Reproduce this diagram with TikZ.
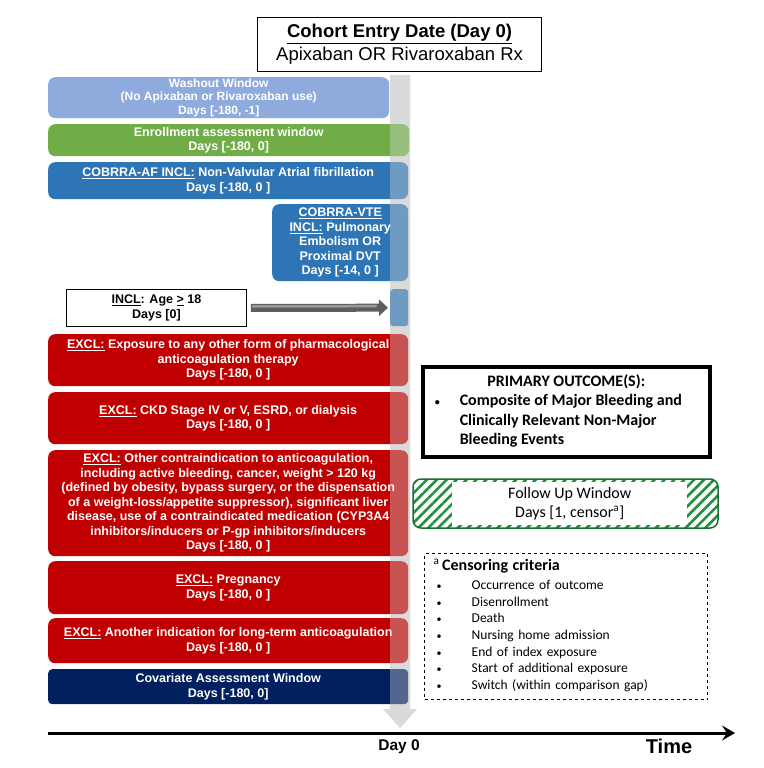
\documentclass[tikz,border=0pt]{standalone}
\usepackage{fontspec}
\setmainfont{Liberation Sans}
\newfontfamily\carl{Carlito}
\usetikzlibrary{arrows.meta,patterns.meta}
\definecolor{washc}{HTML}{8FAADC}
\definecolor{greenc}{HTML}{70AD47}
\definecolor{bluec}{HTML}{2E75B6}
\definecolor{redc}{HTML}{C00000}
\definecolor{navyc}{HTML}{002060}
\definecolor{colgrey}{HTML}{DADADA}
\definecolor{hatchc}{HTML}{22903E}
\definecolor{hatchb}{HTML}{1C6E30}
\definecolor{arrowg}{HTML}{5E5E5E}
\definecolor{arrowl}{HTML}{9A9A9A}
\newcommand{\smbul}{{\fontsize{10}{10}\selectfont\textbullet}}
\tikzset{
  tbox/.style={rounded corners=7pt, anchor=north west, inner sep=0pt, align=center,
    text=white, font=\bfseries\fontsize{12.5}{14.5}\selectfont},
  plainbox/.style={draw=black, anchor=north west, inner sep=0pt, align=center},
}
\begin{document}
\begin{tikzpicture}[x=1pt,y=-1pt]
\useasboundingbox[fill=white] (0,0) rectangle (763,768);

% grey time column (under)
\fill[colgrey] (390,75) -- (410,75) -- (410,709) -- (417,709) -- (400,728) -- (383,709) -- (390,709) -- cycle;

% title
\node[plainbox, line width=1.2pt, minimum width=284pt, minimum height=54pt,
  font=\fontsize{18.5}{23}\selectfont] (title) at (257,17)
  {\textbf{\underline{Cohort Entry Date (Day 0)}}\\Apixaban OR Rivaroxaban Rx};

% left boxes
\node[tbox, fill=washc, minimum width=341pt, minimum height=41pt,
  font=\bfseries\fontsize{12}{13.5}\selectfont] (wash) at (48,77)
  {Washout Window\\(No Apixaban or Rivaroxaban use)\\Days [-180, -1]};
\node[tbox, fill=greenc, minimum width=361pt, minimum height=32pt] (enroll) at (48,124)
  {Enrollment assessment window\\Days [-180, 0]};
\node[tbox, fill=bluec, minimum width=360pt, minimum height=37pt] (af) at (48,162)
  {\underline{COBRRA-AF INCL:} Non-Valvular Atrial fibrillation\\Days [-180, 0 ]};
\node[tbox, fill=bluec, minimum width=136pt, minimum height=77pt] (vte) at (272,204)
  {\underline{COBRRA-VTE}\\\underline{INCL:} Pulmonary\\Embolism OR\\Proximal DVT\\Days [-14, 0 ]};
\node[plainbox, line width=0.8pt, minimum width=180pt, minimum height=37pt,
  font=\bfseries\fontsize{12.5}{14.5}\selectfont] (age) at (66,289)
  {\underline{INCL}: Age \underline{>} 18\\Days [0]};
\node[tbox, rounded corners=3pt, fill=bluec, minimum width=18pt, minimum height=37pt] (agebar) at (390,289) {};
\node[tbox, fill=redc, minimum width=360pt, minimum height=52pt] (ex1) at (48,334)
  {\underline{EXCL:} Exposure to any other form of pharmacological\\anticoagulation therapy\\Days [-180, 0 ]};
\node[tbox, fill=redc, minimum width=360pt, minimum height=52pt] (ex2) at (48,392)
  {\underline{EXCL:} CKD Stage IV or V, ESRD, or dialysis\\Days [-180, 0 ]};
\node[tbox, fill=redc, minimum width=360pt, minimum height=106pt] (ex3) at (48,450)
  {\underline{EXCL:} Other contraindication to anticoagulation,\\including active bleeding, cancer, weight > 120 kg\\(defined by obesity, bypass surgery, or the dispensation\\of a weight-loss/appetite suppressor), significant liver\\disease, use of a contraindicated medication (CYP3A4\\inhibitors/inducers or P-gp inhibitors/inducers\\Days [-180, 0 ]};
\node[tbox, fill=redc, minimum width=360pt, minimum height=53pt] (ex4) at (48,561)
  {\underline{EXCL:} Pregnancy\\Days [-180, 0 ]};
\node[tbox, fill=redc, minimum width=360pt, minimum height=45pt] (ex5) at (48,618)
  {\underline{EXCL:} Another indication for long-term anticoagulation\\Days [-180, 0 ]};
\node[tbox, rounded corners=4pt, fill=navyc, minimum width=360pt, minimum height=35pt] (cov) at (48,669)
  {Covariate Assessment Window\\Days [-180, 0]};

% grey time column (translucent overlay)
\fill[colgrey, opacity=0.38] (390,75) -- (410,75) -- (410,709) -- (417,709) -- (400,728) -- (383,709) -- (390,709) -- cycle;

% age arrow (shaded shaft)
\draw[arrowg, line width=8pt, -{Triangle[length=9pt,width=16pt]}]
  ([xshift=4pt]age.east) -- ([xshift=-2pt]agebar.west);
\draw[arrowl, line width=2.5pt, line cap=round]
  ([xshift=6pt,yshift=1.5pt]age.east) -- ([xshift=-14pt,yshift=1.5pt]agebar.west);

% primary outcome
\node[plainbox, line width=3.5pt, minimum width=287pt, minimum height=90pt,
  font=\carl\bfseries\fontsize{16}{19.5}\selectfont] (outcome) at (421,365)
  {\begin{tabular}{@{}p{25pt}@{}p{238pt}@{}}
   \multicolumn{2}{@{}c@{}}{PRIMARY OUTCOME(S):}\\
   \smbul & Composite of Major Bleeding and\\
   & Clinically Relevant Non-Major\\
   & Bleeding Events
   \end{tabular}};

% follow up window
\path[pattern={Lines[angle=45,distance=7pt,line width=2.6pt]}, pattern color=hatchc,
  rounded corners=8pt] (413,479) rectangle (718,528);
\node[fill=white, anchor=north west, inner sep=0pt, minimum width=235pt, minimum height=43pt,
  align=center, font=\carl\fontsize{16}{19}\selectfont] (follow) at (452,482)
  {Follow Up Window\\Days [1, censor\textsuperscript{a}]};
\draw[hatchb, line width=1.5pt, rounded corners=8pt] (413,479) rectangle (718,528);

% censoring criteria
\node[draw, dashed, line width=1.4pt, anchor=north west, inner xsep=9pt, inner ysep=0pt,
  text width=265pt, minimum height=146pt, align=left,
  font=\carl\fontsize{13.5}{16.6}\selectfont] (censor) at (424,553)
  {\begin{tabular}{@{}p{38pt}@{}l@{}}
   \multicolumn{2}{@{}l@{}}{\fontsize{16}{16.6}\selectfont\textsuperscript{a}\,\textbf{Censoring criteria}}\\[2.4pt]
   \hspace*{3pt}\smbul & Occurrence of outcome\\
   \hspace*{3pt}\smbul & Disenrollment\\
   \hspace*{3pt}\smbul & Death\\
   \hspace*{3pt}\smbul & Nursing home admission\\
   \hspace*{3pt}\smbul & End of index exposure\\
   \hspace*{3pt}\smbul & Start of additional exposure\\
   \hspace*{3pt}\smbul & Switch (within comparison gap)
   \end{tabular}};

% timeline
\coordinate (t0) at (48,733);
\coordinate (t1) at (735,733);
\draw[line width=3pt, -{Stealth[length=13pt,width=15pt,inset=5pt]}] (t0) -- (t1);
\node[font=\bfseries\fontsize{15.5}{18}\selectfont] (day0) at (399,747) {Day 0};
\node[font=\bfseries\fontsize{20}{24}\selectfont] (time) at (669,746) {Time};
\end{tikzpicture}
\end{document}
